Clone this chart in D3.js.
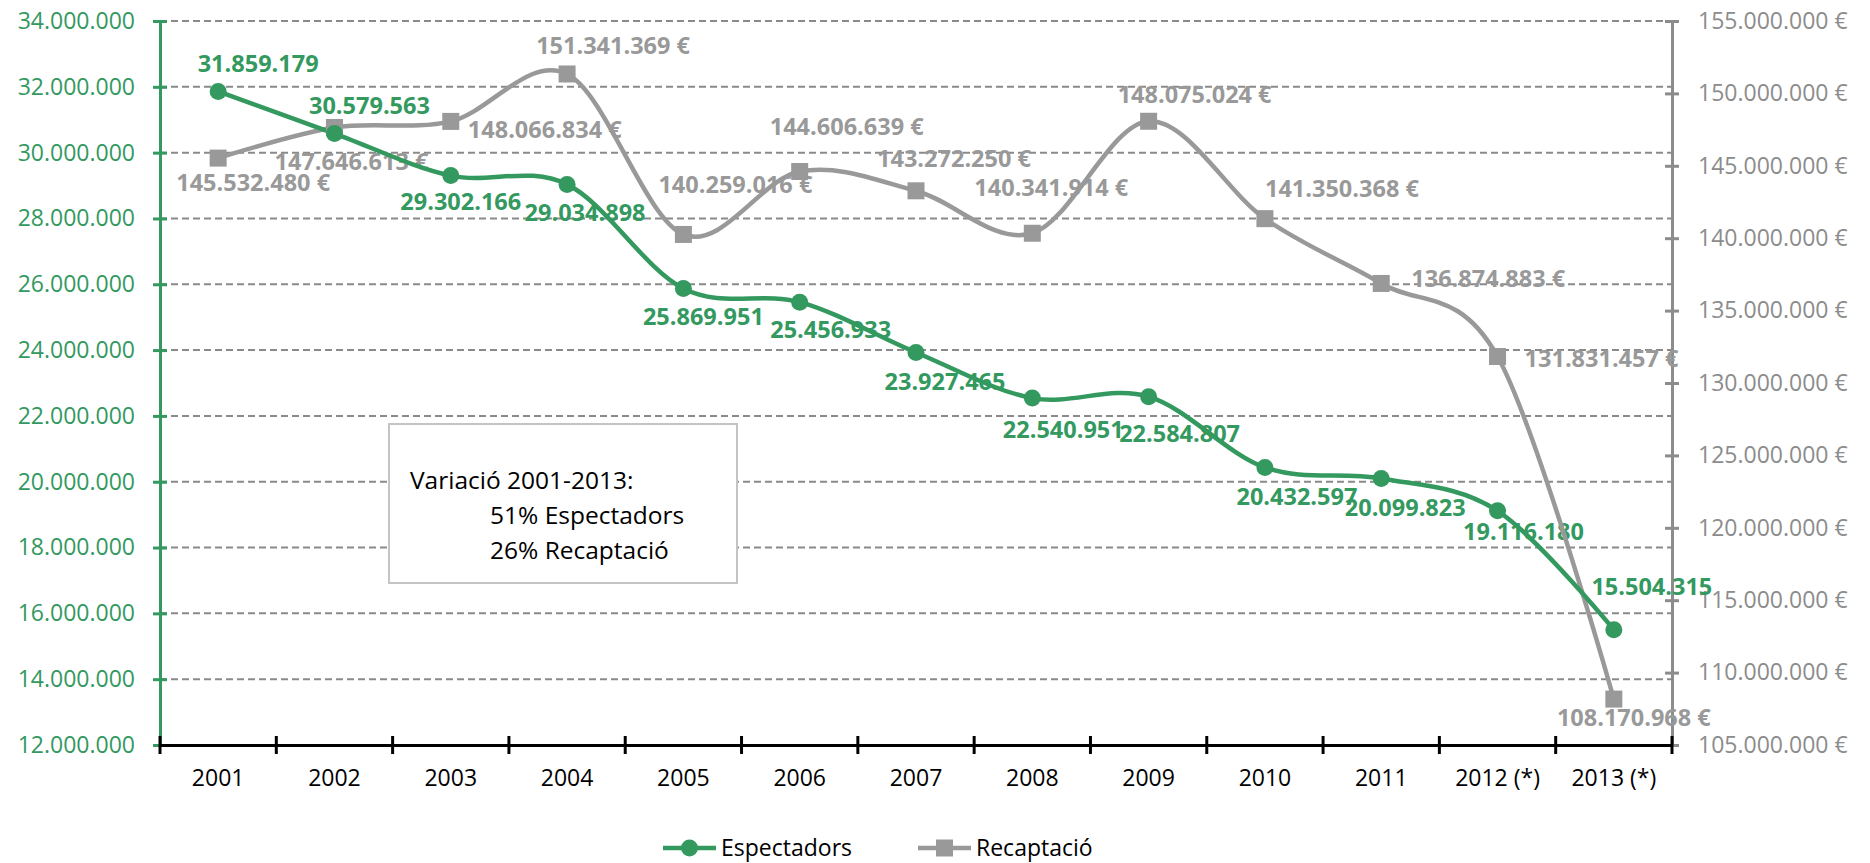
<!DOCTYPE html>
<html>
<head>
<meta charset="utf-8">
<script src="https://cdn.jsdelivr.net/npm/d3@7"></script>
<style>
body{margin:0;background:#fff;}
text{font-family:"Open Sans",sans-serif;}
</style>
</head>
<body>
<div class="canvas"></div>
<script>
// data
const years = ['2001','2002','2003','2004','2005','2006','2007','2008','2009','2010','2011','2012 (*)','2013 (*)'];
const espectadors = [31859179,30579563,29302166,29034898,25869951,25456933,23927465,22540951,22584807,20432597,20099823,19116180,15504315];
const recaptacio = [145532480,147646613,148066834,151341369,140259016,144606639,143272250,140341914,148075024,141350368,136874883,131831457,108170968];
const leftTicks = [12000000,14000000,16000000,18000000,20000000,22000000,24000000,26000000,28000000,30000000,32000000,34000000];
const rightTicks = [105000000,110000000,115000000,120000000,125000000,130000000,135000000,140000000,145000000,150000000,155000000];
const boxLines = ['Variació 2001-2013:','51% Espectadors','26% Recaptació'];

// where each data label sits relative to its point (dx, dy)
const espLabelPos = [[40,-28],[35,-28],[10,26],[18,28],[20,28],[31,28],[29,29],[31,32],[31,37],[32,29],[24,29],[26,21],[38,-43]];
const recLabelPos = [[35,25],[17,34],[94,8],[46,-28],[52,-50],[47,-45],[38,-32],[19,-45],[46,-26],[77,-30],[107,-5],[104,2],[20,19]];

const green = '#33995f';
const grey = '#999999';
const axisGrey = '#8c8c8c';

const dims = {width:1870, height:863};
const plot = {left:160, right:1672, top:21, bottom:745};

const svg = d3.select('.canvas').append('svg')
   .attr('width',dims.width)
   .attr('height',dims.height);

const fmt = d3.formatLocale({decimal:',', thousands:'.', grouping:[3], currency:['','']}).format(',d');

const x = d3.scaleBand().domain(years).range([plot.left,plot.right]).padding(0);
const cx = d => x(d) + x.bandwidth()/2;
const yL = d3.scaleLinear().domain([12000000,34000000]).range([plot.bottom,plot.top]);
const yR = d3.scaleLinear().domain([105000000,155000000]).range([plot.bottom,plot.top]);

// gridlines
svg.append('g').selectAll('line')
  .data(leftTicks.filter(d => d > 12000000))
  .enter().append('line')
   .attr('x1',plot.left).attr('x2',plot.right)
   .attr('y1',d=>yL(d)).attr('y2',d=>yL(d))
   .attr('stroke','#8a8a8a')
   .attr('stroke-width',2)
   .attr('stroke-dasharray','7,4');

// info box
const box = svg.append('g');
box.append('rect')
  .attr('x',389).attr('y',424).attr('width',348).attr('height',159)
  .attr('fill','#fff').attr('stroke','#c4c4c4').attr('stroke-width',2);
box.selectAll('text').data(boxLines).enter().append('text')
  .attr('x',(d,i)=> i==0 ? 410 : 490)
  .attr('y',(d,i)=> 489 + i*35)
  .attr('font-size',24.5)
  .attr('fill','#000')
  .text(d=>d);

// left axis
const leftAxis = svg.append('g')
  .attr('transform',`translate(${plot.left},0)`)
  .call(d3.axisLeft(yL).tickValues(leftTicks).tickSize(0).tickPadding(25).tickFormat(fmt));
leftAxis.select('.domain').attr('stroke',green).attr('stroke-width',3);
leftAxis.selectAll('.tick').append('line').attr('x1',-7).attr('x2',7).attr('stroke',green).attr('stroke-width',3);
leftAxis.selectAll('text').attr('fill',green).attr('font-size',23).attr('font-family','"Open Sans",sans-serif');

// right axis
const rightAxis = svg.append('g')
  .attr('transform',`translate(${plot.right},0)`)
  .call(d3.axisRight(yR).tickValues(rightTicks).tickSize(0).tickPadding(26).tickFormat(d=>fmt(d)+' €'));
rightAxis.select('.domain').attr('stroke',axisGrey).attr('stroke-width',3);
rightAxis.selectAll('.tick').append('line').attr('x1',-7).attr('x2',7).attr('stroke',axisGrey).attr('stroke-width',3);
rightAxis.selectAll('text').attr('fill',axisGrey).attr('font-size',23).attr('font-family','"Open Sans",sans-serif');

// bottom axis
const bottomAxis = svg.append('g')
  .attr('transform',`translate(0,${plot.bottom})`)
  .call(d3.axisBottom(x).tickSize(0).tickPadding(25));
bottomAxis.select('.domain').attr('stroke','#000').attr('stroke-width',3);
bottomAxis.selectAll('text').attr('fill','#000').attr('font-size',23).attr('font-family','"Open Sans",sans-serif');
bottomAxis.selectAll('.bound')
  .data(years.map(d=>x(d)).concat([plot.right]))
  .enter().append('line')
   .attr('class','bound')
   .attr('x1',d=>d).attr('x2',d=>d)
   .attr('y1',-9).attr('y2',9)
   .attr('stroke','#000').attr('stroke-width',3);

// data labels (under the lines)
const labels = svg.append('g');
labels.selectAll('.lr').data(recaptacio).enter().append('text')
  .attr('class','lr')
  .attr('x',(d,i)=>cx(years[i]) + recLabelPos[i][0])
  .attr('y',(d,i)=>yR(d) + recLabelPos[i][1])
  .attr('text-anchor','middle').attr('dy','0.35em')
  .attr('font-size',23.5).attr('font-weight','bold')
  .attr('fill',grey)
  .text(d=>fmt(d)+' €');
labels.selectAll('.le').data(espectadors).enter().append('text')
  .attr('class','le')
  .attr('x',(d,i)=>cx(years[i]) + espLabelPos[i][0])
  .attr('y',(d,i)=>yL(d) + espLabelPos[i][1])
  .attr('text-anchor','middle').attr('dy','0.35em')
  .attr('font-size',23.5).attr('font-weight','bold')
  .attr('fill',green)
  .text(d=>fmt(d));

// lines
const lineR = d3.line().x((d,i)=>cx(years[i])).y(d=>yR(d)).curve(d3.curveCatmullRom.alpha(0));
const lineE = d3.line().x((d,i)=>cx(years[i])).y(d=>yL(d)).curve(d3.curveCatmullRom.alpha(0));

svg.append('path').datum(recaptacio)
  .attr('d',lineR).attr('fill','none').attr('stroke',grey).attr('stroke-width',4.5);
svg.append('path').datum(espectadors)
  .attr('d',lineE).attr('fill','none').attr('stroke',green).attr('stroke-width',4.5);

// markers
svg.append('g').selectAll('rect').data(recaptacio).enter().append('rect')
  .attr('x',(d,i)=>cx(years[i])-8.5)
  .attr('y',d=>yR(d)-8.5)
  .attr('width',17).attr('height',17)
  .attr('fill',grey);
svg.append('g').selectAll('circle').data(espectadors).enter().append('circle')
  .attr('cx',(d,i)=>cx(years[i]))
  .attr('cy',d=>yL(d))
  .attr('r',8.5)
  .attr('fill',green);

// legend
const legend = svg.append('g').attr('transform','translate(0,848)');
const legendItems = [
  {name:'Espectadors', color:green, shape:'circle', x:663},
  {name:'Recaptació', color:grey, shape:'square', x:918}
];
legendItems.forEach(item=>{
  const g = legend.append('g').attr('transform',`translate(${item.x},0)`);
  g.append('line').attr('x1',0).attr('x2',53).attr('stroke',item.color).attr('stroke-width',4.5);
  if(item.shape=='circle'){
    g.append('circle').attr('cx',26.5).attr('r',8.5).attr('fill',item.color);
  } else {
    g.append('rect').attr('x',18).attr('y',-8.5).attr('width',17).attr('height',17).attr('fill',item.color);
  }
  g.append('text').attr('x',58).attr('dy','0.35em').attr('font-size',23).attr('fill','#000').text(item.name);
});
</script>
</body>
</html>
